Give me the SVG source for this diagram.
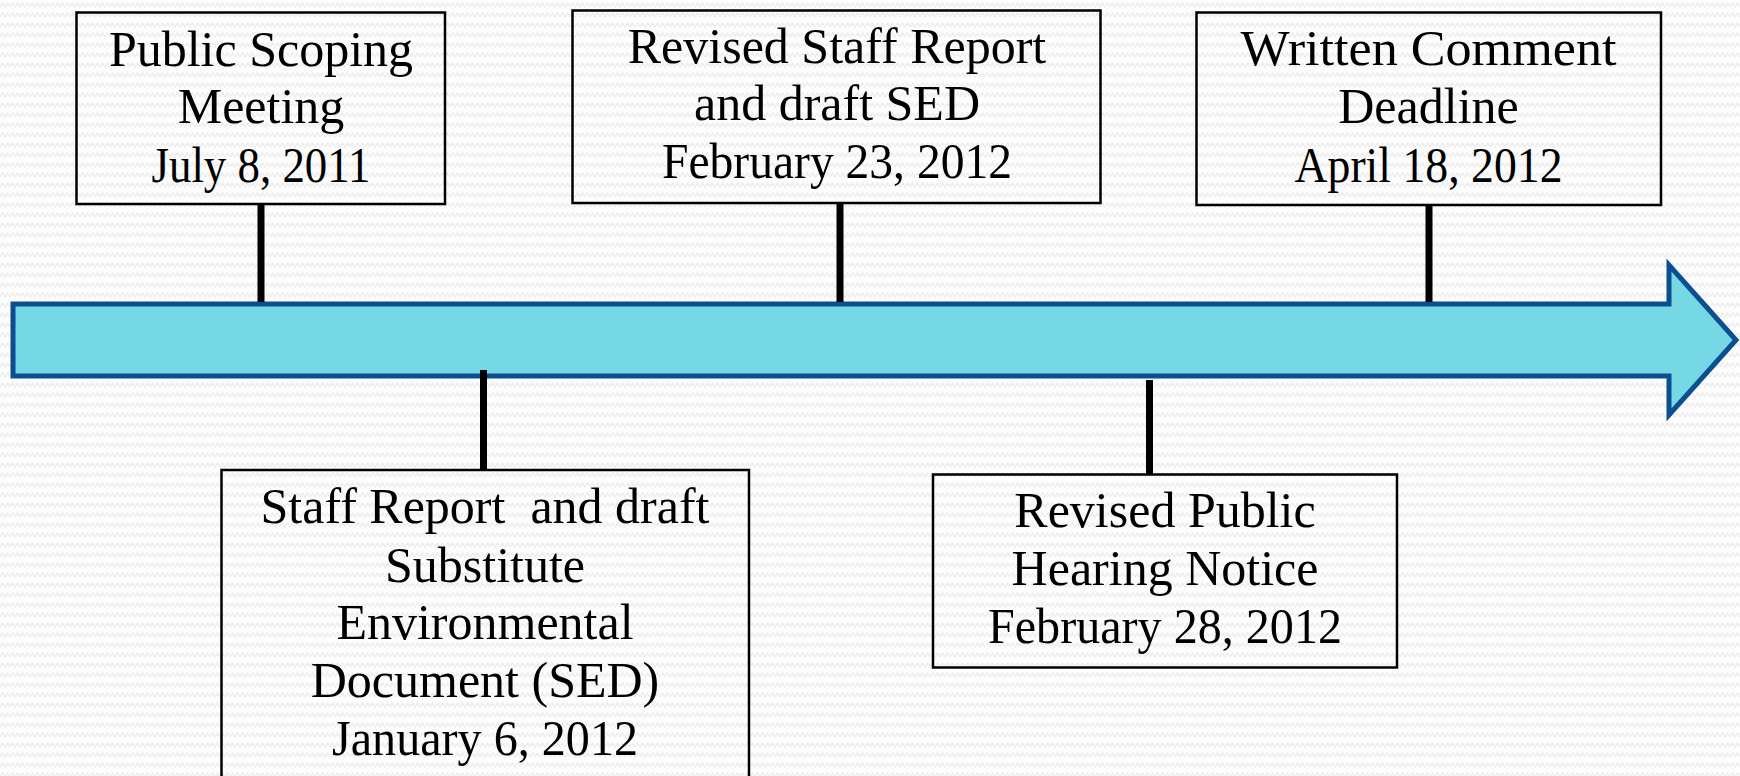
<svg xmlns="http://www.w3.org/2000/svg" width="1740" height="776" viewBox="0 0 1740 776">
<style>
.box{fill:none;stroke:#000;stroke-width:2.5}
.lbl{font-family:"Liberation Serif","Times New Roman",serif;font-size:50px;fill:#000;text-anchor:middle;white-space:pre}
.conn{stroke:#000;stroke-width:7;fill:none}
</style>
<defs>
<pattern id="bg" width="10" height="10" patternUnits="userSpaceOnUse">
<rect width="10" height="10" fill="#fdfdfd"/>
<polyline points="0,7 2.5,3 5,7 7.5,3 10,7" fill="none" stroke="#ececec" stroke-width="1.2"/>
</pattern>
</defs>
<rect width="1740" height="776" fill="url(#bg)"/>
<g id="timeline-arrow">
<path d="M13,304 H1669 V265 L1736,340 L1669,415 V376 H13 Z" fill="#76d7e5" stroke="#0b4f91" stroke-width="5" stroke-linejoin="miter"/>
</g>
<g id="connectors">
<line class="conn" x1="261" y1="204" x2="261" y2="302"/>
<line class="conn" x1="840" y1="203" x2="840" y2="302"/>
<line class="conn" x1="1429" y1="205" x2="1429" y2="302"/>
<line class="conn" x1="483.5" y1="370" x2="483.5" y2="470"/>
<line class="conn" x1="1149.5" y1="380" x2="1149.5" y2="474"/>
</g>
<g id="node-scoping">
<rect class="box" x="76.5" y="12.5" width="368.5" height="191.5"/>
<text class="lbl" x="261" y="66">Public Scoping</text>
<text class="lbl" x="261" y="123">Meeting</text>
<text class="lbl" x="261" y="182" textLength="219" lengthAdjust="spacingAndGlyphs">July 8, 2011</text>
</g>
<g id="node-revised-staff">
<rect class="box" x="572.5" y="10.5" width="528" height="192.5"/>
<text class="lbl" x="837" y="63">Revised Staff Report</text>
<text class="lbl" x="837" y="120">and draft SED</text>
<text class="lbl" x="837" y="178" textLength="350" lengthAdjust="spacingAndGlyphs">February 23, 2012</text>
</g>
<g id="node-comment">
<rect class="box" x="1196.5" y="12.5" width="464.5" height="192.5"/>
<text class="lbl" x="1428.5" y="65" textLength="376" lengthAdjust="spacingAndGlyphs">Written Comment</text>
<text class="lbl" x="1428.5" y="123">Deadline</text>
<text class="lbl" x="1428.5" y="182" textLength="268" lengthAdjust="spacingAndGlyphs">April 18, 2012</text>
</g>
<g id="node-staff-report">
<rect class="box" x="221.5" y="470" width="527.5" height="330"/>
<text class="lbl" x="485" y="523">Staff Report  and draft</text>
<text class="lbl" x="485" y="582">Substitute</text>
<text class="lbl" x="485" y="639">Environmental</text>
<text class="lbl" x="485" y="697">Document (SED)</text>
<text class="lbl" x="485" y="755" textLength="306" lengthAdjust="spacingAndGlyphs">January 6, 2012</text>
</g>
<g id="node-hearing">
<rect class="box" x="933" y="474.5" width="464" height="193"/>
<text class="lbl" x="1165" y="527">Revised Public</text>
<text class="lbl" x="1165" y="585">Hearing Notice</text>
<text class="lbl" x="1165" y="643" textLength="354" lengthAdjust="spacingAndGlyphs">February 28, 2012</text>
</g>
</svg>
